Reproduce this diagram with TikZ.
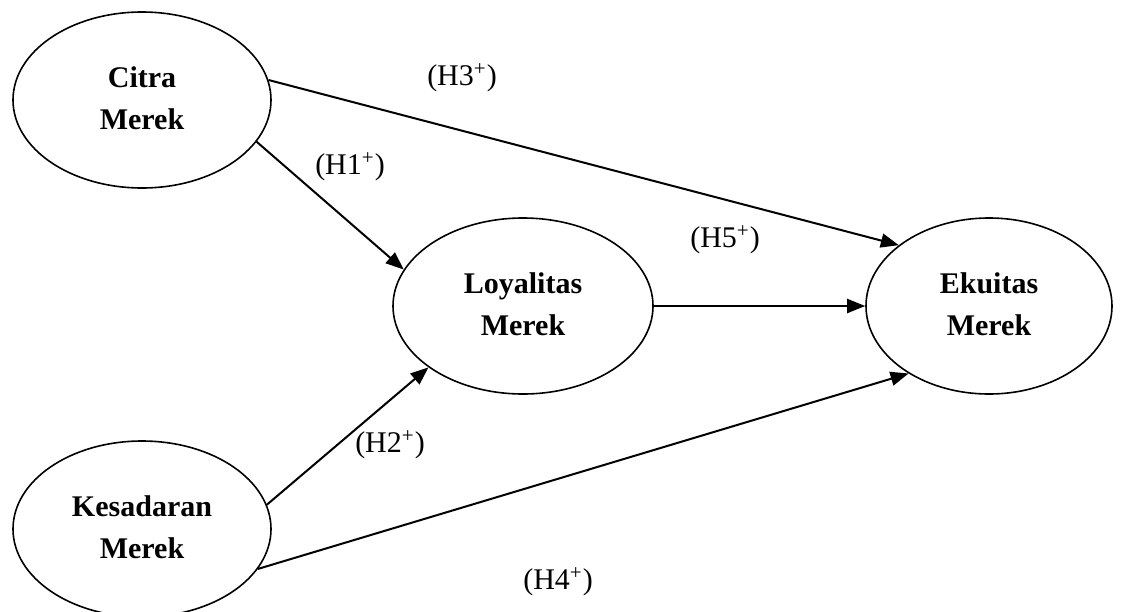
\documentclass[tikz,border=0pt]{standalone}
\usepackage{fontspec}
\setmainfont{Liberation Serif}
\usetikzlibrary{arrows.meta,shapes.geometric}

\begin{document}
\begin{tikzpicture}[
  x=0.5pt, y=-0.5pt,
  construct/.style={draw=black, line width=0.8pt, ellipse, inner sep=0pt,
                    minimum width=129pt, minimum height=88pt,
                    font=\fontsize{15}{21}\selectfont\bfseries, align=center},
  link/.style={-{Triangle[length=9pt, width=7pt]}, line width=1pt},
  hyp/.style={font=\fontsize{15}{18}\selectfont, inner sep=0pt},
]
\useasboundingbox (0,0) rectangle (1125,611);

% ---------------- constructs ----------------------------------------
\node[construct] (citra) at (142,100)
  {\raisebox{6pt}{\begin{tabular}{@{}c@{}}Citra\\Merek\end{tabular}}};
\node[construct, minimum width=130pt] (loyal) at (523,306)
  {\raisebox{6pt}{\begin{tabular}{@{}c@{}}Loyalitas\\Merek\end{tabular}}};
\node[construct, minimum width=123pt] (ekuitas) at (989,306)
  {\raisebox{6pt}{\begin{tabular}{@{}c@{}}Ekuitas\\Merek\end{tabular}}};
\node[construct] (sadar) at (142,529)
  {\raisebox{6pt}{\begin{tabular}{@{}c@{}}Kesadaran\\Merek\end{tabular}}};

% ---------------- hypotheses ----------------------------------------
\draw[link] (citra.-20) -- (loyal.163);
\draw[link] (sadar.11) -- (loyal.213);
\draw[link] (citra.9) -- (ekuitas.146);
\draw[link] (sadar.-19) -- (ekuitas.220);
\draw[link] (loyal.east) -- (ekuitas.west);

\node[hyp] (h1) at (350,167) {(H1\textsuperscript{+})};
\node[hyp] (h2) at (390,445) {(H2\textsuperscript{+})};
\node[hyp] (h3) at (462,78) {(H3\textsuperscript{+})};
\node[hyp] (h4) at (558,582) {(H4\textsuperscript{+})};
\node[hyp] (h5) at (725,240) {(H5\textsuperscript{+})};

\end{tikzpicture}
\end{document}
